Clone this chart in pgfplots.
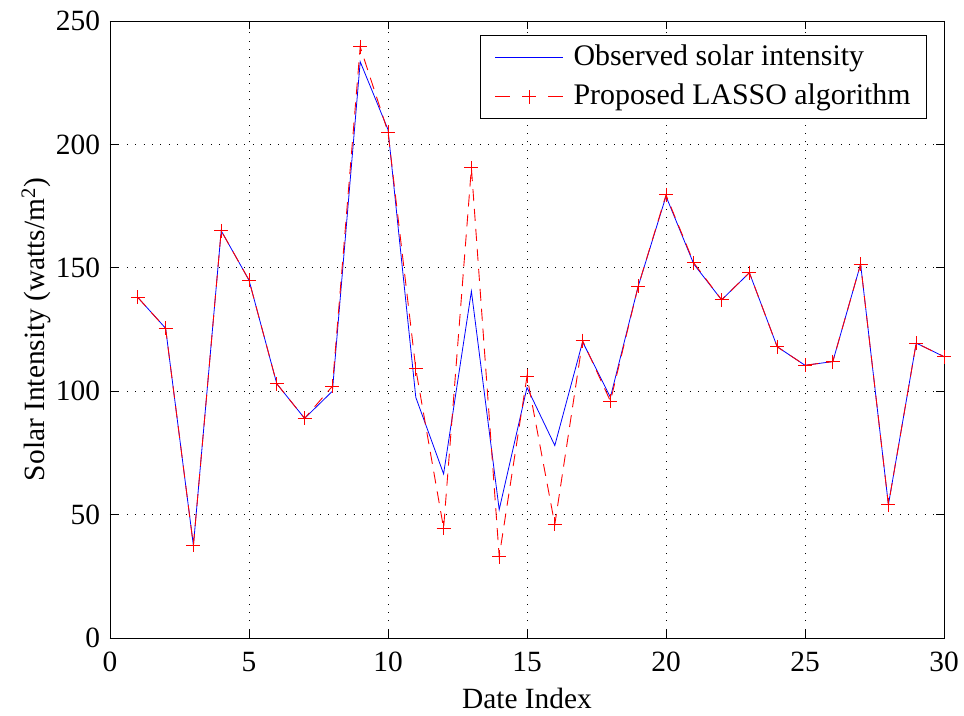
\documentclass[border=0pt]{standalone}
\usepackage{fontspec}
\setmainfont{Liberation Serif}
\usepackage{pgfplots}
\usepackage{pgfplotstable}
\pgfplotsset{compat=1.18}

% Date index, observed intensity, LASSO estimate
\pgfplotstableread{
x  obs    lasso
1  138    138
2  125.5  125.5
3  37.5   37.5
4  165    165
5  145    145
6  103    103
7  89     89
8  100    102
9  233.5  239.5
10 206    205
11 97.5   109
12 66.5   44.5
13 140.5  190.5
14 52     33
15 101.5  106
16 78     46
17 120    120.5
18 97.5   96
19 142.5  142.5
20 179    179.5
21 151.5  152
22 137    137
23 148    148
24 118    118
25 110.5  110.5
26 112    112
27 151.5  151.5
28 54     54
29 119.5  119.5
30 114    114
}\solardata

\begin{document}
\fontsize{29.5}{34}\selectfont
\begin{tikzpicture}
\begin{axis}[
  scale only axis,
  width=834bp, height=617bp,
  xmin=0, xmax=30, ymin=0, ymax=250,
  xtick={0,5,...,30},
  ytick={0,50,...,250},
  /pgf/number format/assume math mode=true,
  tick label style={font=\fontsize{29.5}{34}\selectfont},
  label style={font=\fontsize{29.5}{34}\selectfont},
  xlabel={Date Index},
  ylabel={Solar Intensity (watts/m\textsuperscript{2})},
  xlabel style={at={(axis description cs:0.5,-0.1135)}, anchor=base},
  ylabel style={at={(axis description cs:-0.0791,0.5)}, anchor=base},
  xticklabel style={anchor=base, yshift=-33bp},
  grid=major,
  major grid style={black, line width=0.7pt, dash pattern=on 0.9bp off 7.5bp},
  tick align=inside,
  major tick length=8bp,
  tick style={black, line width=0.7pt},
  axis line style={black, line width=0.9pt},
  legend style={
    at={(rel axis cs:0.9796,0.9773)}, anchor=north east,
    draw=black, line width=0.7pt,
    font=\fontsize{30}{34}\selectfont,
    inner xsep=14bp, inner ysep=7.5bp,
    row sep=10bp,
    cells={anchor=west},
  },
  legend image code/.code={
    \draw[#1] (0bp,0bp) -- (68bp,0bp);
    \path (76bp,0bp);
  },
  legend cell align=left,
]
\addplot[blue, line width=0.8pt, mark=none] table[x=x, y=obs] {\solardata};
\addlegendentry{Observed solar intensity}
\addplot[red, line width=0.9pt, dash pattern=on 12bp off 8bp, mark=none,
  forget plot] table[x=x, y=lasso] {\solardata};
\addplot[draw=none, only marks, mark=+, mark size=7bp,
  mark options={solid, draw=red, line width=1pt},
  legend image code/.code={
    \draw[red, line width=0.9pt, dash pattern=on 15bp off 38bp]
      (0bp,0bp) -- (68bp,0bp);
    \draw[red, line width=1pt] (27bp,0bp) -- (41bp,0bp)
      (34bp,-7bp) -- (34bp,7bp);
    \path (76bp,0bp);
  }] table[x=x, y=lasso] {\solardata};
\addlegendentry{Proposed LASSO algorithm\hspace{5bp}}
\end{axis}
\pgfresetboundingbox
\useasboundingbox (current axis.south west) ++(-110bp,-78bp) rectangle ++(964bp,716bp);
\end{tikzpicture}
\end{document}
